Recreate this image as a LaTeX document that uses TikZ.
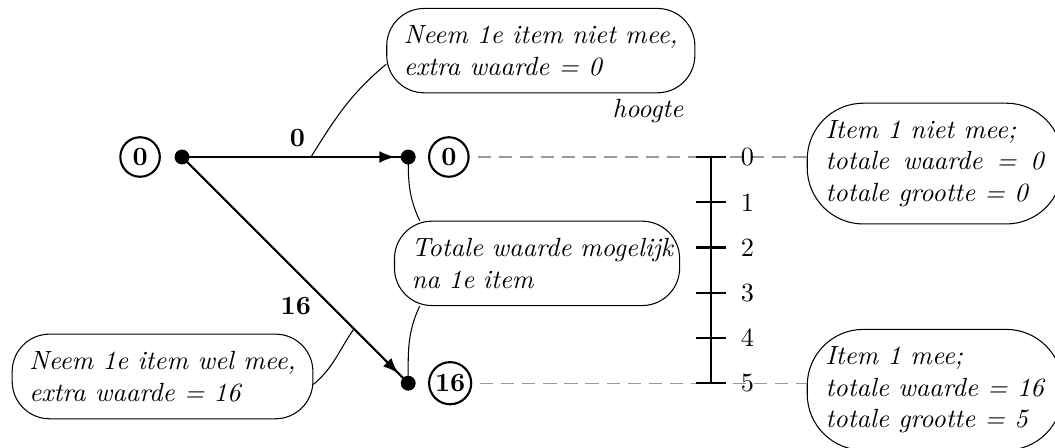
\documentclass[tikz,border=0pt]{standalone}
\usepackage{tikz}
\usetikzlibrary{positioning,calc,decorations.markings,arrows.meta}

\newlength\valw
\AtBeginDocument{\settowidth{\valw}{\itshape totale waarde = 16}}

\begin{document}
\begin{tikzpicture}[
    bubble/.style={draw, rounded corners=0.5cm, inner sep=6.5pt, align=left, font=\itshape},
    val/.style={draw, thick, circle, minimum size=15pt, inner sep=1pt, font=\bfseries},
    dot/.style={circle, fill, inner sep=2pt},
    tak/.style={thick, postaction={decorate}, decoration={markings,
        mark=at position -5pt with {\arrow{Latex[length=6pt,width=4.5pt]}}}},
    guide/.style={gray!80, dash pattern=on 5pt off 3pt, dash phase=5pt}
]
    \useasboundingbox (-2.43,-3.872) rectangle (11.655,2.096);

    % start en eerste item
    \node[dot] (s) at (0,0) {};
    \node[dot] (t0) at (3.02,0) {};
    \node[dot] (t1) at (3.02,-3.02) {};
    \node[val, left=5pt of s] (v) {0};
    \node[val, right=4.5pt of t0] (v0) {0};
    \node[val, right=4.5pt of t1] (v1) {16};

    \draw[tak] (s.center) -- coordinate[pos=0.57] (c0) node[pos=0.51, above, font=\bfseries] {0} (t0.center);
    \draw[tak] (s.center) -- coordinate[pos=0.76] (c1) node[pos=0.66, left=4pt, font=\bfseries] {16} (t1.center);

    % toelichting
    \node[bubble] (ul) at (4.79,1.42) {Neem 1e item niet mee,\\ extra waarde = 0};
    \node[bubble] (ll) at (-0.26,-2.93) {Neem 1e item wel mee,\\ extra waarde = 16};
    \node[bubble, text width=3.35cm] (mid) at (4.74,-1.42) {\mbox{Totale waarde mogelijk}\\ na 1e item};

    \draw (c0) to[out=58, in=220] (ul.185);
    \draw (c1) to[out=235, in=40] (ll.357);
    \draw (t0.center) to[out=-90, in=115] (mid.160);
    \draw (mid.200) to[out=-115, in=90] (t1.center);

    % toestanden rechts
    \node[bubble, rounded corners=0.75cm, inner xsep=7pt, text width=\valw, align=justify,
        anchor=west, yshift=-2.5pt] (r0) at (8.34,0) {Item 1 niet mee;\\ totale waarde = 0 totale grootte = 0};
    \node[bubble, rounded corners=0.75cm, inner xsep=7pt, text width=\valw, align=justify,
        anchor=west, yshift=-2.5pt] (r1) at (8.34,-3.02) {Item 1 mee;\\ totale waarde = 16 totale grootte = 5};

    \draw[guide] (v0.east) -- (v0.east -| r0.west);
    \draw[guide] (v1.east) -- (v1.east -| r1.west);

    % hoogte-as
    \node[font=\itshape] (hoogte) at (6.22,0.61) {hoogte};
    \draw[thick] (7.06,0) -- (7.06,-3.02);
    \foreach \i in {0,...,5} {
        \draw[thick] (6.86,-\i*0.604) -- ++(0.4,0) node[right=2pt] (h\i) {\i};
    }
\end{tikzpicture}
\end{document}
